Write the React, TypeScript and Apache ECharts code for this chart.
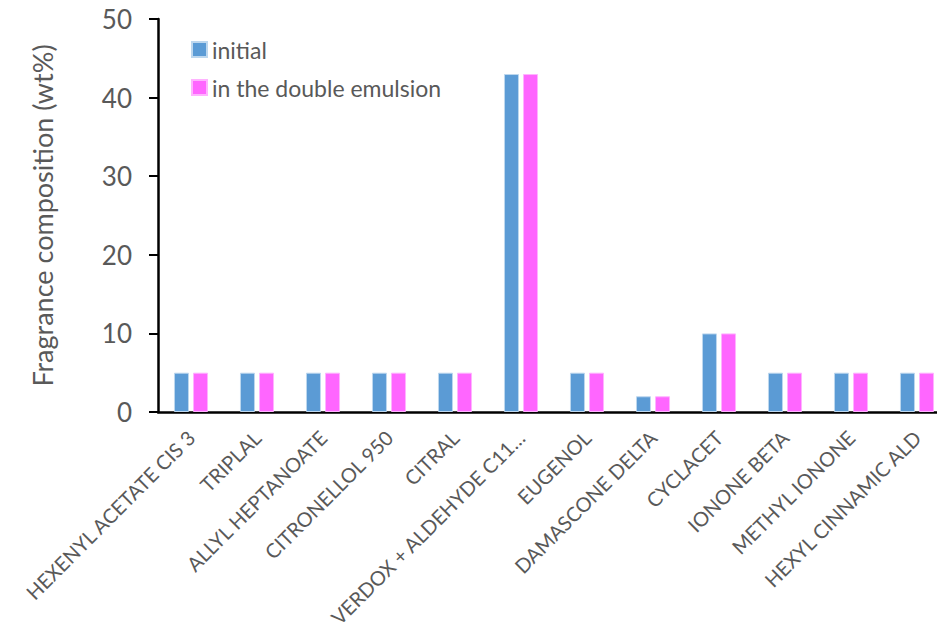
import React, { useEffect, useRef } from "react";
import * as echarts from "echarts";

const categories = [
  "HEXENYL ACETATE CIS 3",
  "TRIPLAL",
  "ALLYL HEPTANOATE",
  "CITRONELLOL 950",
  "CITRAL",
  "VERDOX + ALDEHYDE C11…",
  "EUGENOL",
  "DAMASCONE DELTA",
  "CYCLACET",
  "IONONE BETA",
  "METHYL IONONE",
  "HEXYL CINNAMIC ALD",
];
const initialValues = [5, 5, 5, 5, 5, 43, 5, 2, 10, 5, 5, 5];
const emulsionValues = [5, 5, 5, 5, 5, 43, 5, 2, 10, 5, 5, 5];
const seriesNames = ["initial", "in the double emulsion"];
const yTicks = { min: 0, max: 50, interval: 10 };

const FONT = "Lato, 'Open Sans', sans-serif";

export default function App() {
  const ref = useRef<HTMLDivElement>(null);
  useEffect(() => {
    document.body.style.margin = "0";
    document.body.style.overflow = "hidden";
    if (!ref.current) return;
    const chart = echarts.init(ref.current, null, { renderer: "svg" });
    chart.setOption({
      animation: false,
      textStyle: { fontFamily: FONT },
      grid: {
        left: 158,
        top: 19,
        width: 792,
        height: 393,
        containLabel: false,
        outerBoundsMode: "none",
      },
      legend: {
        orient: "vertical",
        left: 186,
        top: 33,
        itemWidth: 15,
        itemHeight: 15,
        itemGap: 15,
        itemTextGap: 7,
        icon: "rect",
        textStyle: { fontSize: 23, color: "#595959", fontFamily: FONT },
        data: seriesNames,
      },
      xAxis: {
        type: "category",
        data: categories,
        axisLine: { lineStyle: { color: "#000", width: 2.5 } },
        axisTick: { show: false },
        axisLabel: {
          rotate: 45,
          interval: 0,
          fontSize: 20,
          color: "#595959",
          margin: 22,
          fontFamily: FONT,
        },
      },
      yAxis: {
        type: "value",
        min: yTicks.min,
        max: yTicks.max,
        interval: yTicks.interval,
        name: "Fragrance composition (wt%)",
        nameLocation: "middle",
        nameGap: 102,
        nameTextStyle: { fontSize: 27, color: "#595959", fontFamily: FONT },
        axisLine: { show: true, lineStyle: { color: "#000", width: 2.5 } },
        axisTick: { show: true, length: 9, lineStyle: { color: "#000", width: 2 } },
        splitLine: { show: false },
        axisLabel: { fontSize: 26, color: "#595959", margin: 26, fontFamily: FONT },
      },
      series: [
        {
          name: seriesNames[0],
          type: "bar",
          data: initialValues,
          barWidth: 15,
          barGap: "27%",
          itemStyle: { color: "#5B9BD5", borderColor: "#BDD7EE", borderWidth: 1 },
        },
        {
          name: seriesNames[1],
          type: "bar",
          data: emulsionValues,
          barWidth: 15,
          itemStyle: { color: "#FF66FF", borderColor: "#FFB3FF", borderWidth: 1 },
        },
      ],
    });
    return () => chart.dispose();
  }, []);
  return <div ref={ref} style={{ width: 937, height: 632 }} />;
}
